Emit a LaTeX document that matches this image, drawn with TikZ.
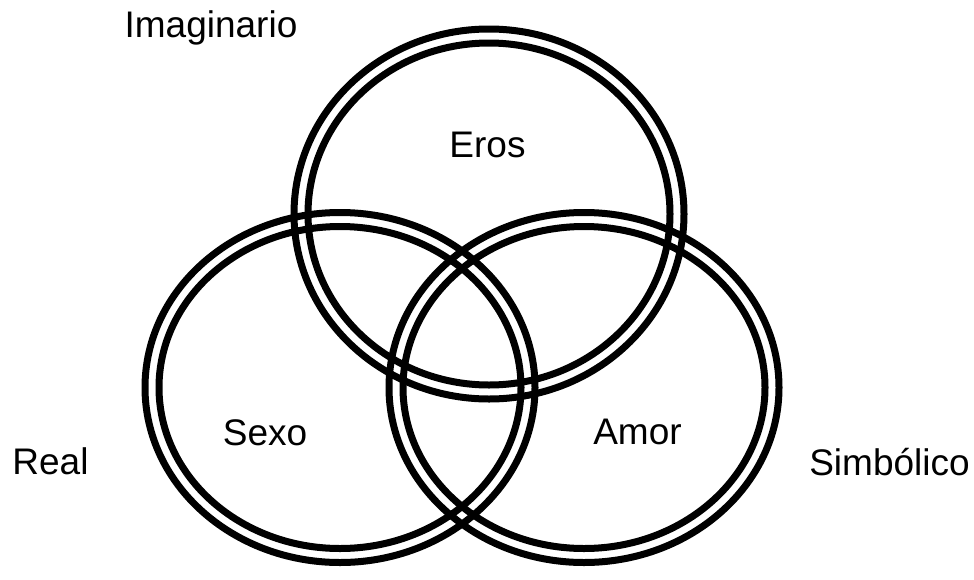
\documentclass[tikz,border=0pt]{standalone}
\usepackage{fontspec}
\setmainfont{Liberation Sans}
\begin{document}
\begin{tikzpicture}[x=1pt, y=-1pt, line width=7pt, font=\fontsize{37}{40}\selectfont]

    % Marco de la figura (en px de la imagen)
    \useasboundingbox (0,0) rectangle (974,579);
    \def\gap{14}

    % Centros de los tres registros
    \coordinate (imag) at (489,214);
    \coordinate (real) at (340,387.5);
    \coordinate (simb) at (584,387.5);

    % Anillos dobles: centro / radio x / radio y
    \foreach \c/\a/\b in {imag/195/185, real/195/175, simb/195/175}{
        \draw (\c) ellipse [x radius=\a pt, y radius=\b pt];
        \draw (\c) ellipse [x radius=\a pt-\gap pt, y radius=\b pt-\gap pt];
    }

    % Nombres de los registros
    \node[anchor=base] (nimag) at (211,37) {Imaginario};
    \node[anchor=base] (nreal) at (50.5,474) {Real};
    \node[anchor=base] (nsimb) at (889.5,475) {Simbólico};

    % Lo que cae dentro de cada anillo
    \node[anchor=base] (eros) at (487.5,157) {Eros};
    \node[anchor=base] (sexo) at (265,445) {Sexo};
    \node[anchor=base] (amor) at (637.5,444) {Amor};

\end{tikzpicture}
\end{document}
